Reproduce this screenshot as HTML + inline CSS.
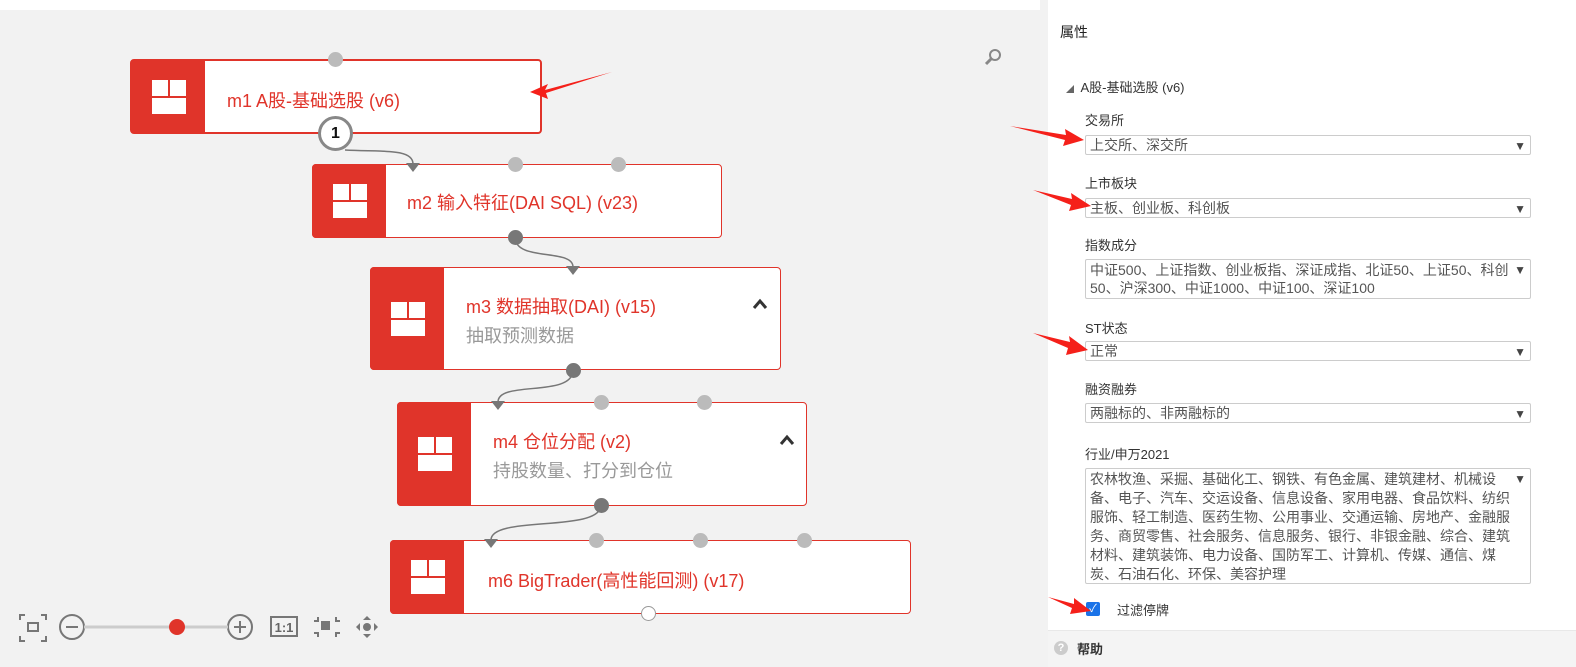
<!DOCTYPE html>
<html><head><meta charset="utf-8"><style>
*{margin:0;padding:0;box-sizing:border-box}
body{width:1576px;height:667px;position:relative;overflow:hidden;background:#fff;font-family:"Liberation Sans","Noto Sans CJK SC",sans-serif}
.abs{position:absolute}
.canvas{left:0;top:10px;width:1048px;height:657px;background:#f2f2f2}
.node{position:absolute;background:#fff;border:1px solid #e0342a;border-radius:4px;overflow:visible}
.node .red{position:absolute;left:-1px;top:-1px;bottom:-1px;width:74px;background:#e0342a;border-radius:4px 0 0 4px}
.ico{position:absolute;left:20px;top:50%;margin-top:-17px;width:34px;height:34px;background:#fff}
.ico:before{content:"";position:absolute;left:0;right:0;top:16px;height:2px;background:#e0342a}
.ico:after{content:"";position:absolute;left:16px;width:2px;top:0;height:16px;background:#e0342a}
.t{position:absolute;color:#e0342a;font-size:18px;white-space:nowrap}
.s{position:absolute;color:#999;font-size:18px;white-space:nowrap}
.chev{position:absolute}
.port{position:absolute;width:15px;height:15px;border-radius:50%;background:#bbb;margin:-7px 0 0 -7px}
.dport{background:#777}
.lbl{position:absolute;left:1085px;font-size:13px;color:#333}
.sel{position:absolute;left:1085px;width:446px;border:1px solid #ccc;border-radius:2px;font-size:14px;color:#555;padding:0 20px 0 4px;line-height:18px;background:#fff}
.sel:after{content:"▼";position:absolute;right:4px;top:1px;font-size:12px;color:#444}
</style></head><body>
<div class="abs canvas"></div>
<div class="abs" style="left:1040px;top:0;width:8px;height:667px;background:#f2f2f2"></div>

<div class="node" style="left:130px;top:59px;width:412px;height:75px;border-width:2px">
<div class="red"></div><div class="ico"></div>
<div class="t" style="left:95px;top:26px">m1 A股-基础选股 (v6)</div>
</div>

<div class="node" style="left:312px;top:164px;width:410px;height:74px">
<div class="red"></div><div class="ico"></div>
<div class="t" style="left:94px;top:24px">m2 输入特征(DAI SQL) (v23)</div>
</div>

<div class="node" style="left:370px;top:267px;width:411px;height:103px">
<div class="red"></div><div class="ico"></div>
<div class="t" style="left:95px;top:25px">m3 数据抽取(DAI) (v15)</div>
<div class="s" style="left:95px;top:54px">抽取预测数据</div>
<svg class="chev" style="left:381px;top:30px" width="16" height="12"><path d="M2,10 L8,3 L14,10" fill="none" stroke="#333" stroke-width="3"/></svg>
</div>

<div class="node" style="left:397px;top:402px;width:410px;height:104px">
<div class="red"></div><div class="ico"></div>
<div class="t" style="left:95px;top:25px">m4 仓位分配 (v2)</div>
<div class="s" style="left:95px;top:54px">持股数量、打分到仓位</div>
<svg class="chev" style="left:381px;top:31px" width="16" height="12"><path d="M2,10 L8,3 L14,10" fill="none" stroke="#333" stroke-width="3"/></svg>
</div>

<div class="node" style="left:390px;top:540px;width:521px;height:74px">
<div class="red"></div><div class="ico"></div>
<div class="t" style="left:97px;top:26px">m6 BigTrader(高性能回测) (v17)</div>
</div>

<svg class="abs" style="left:0;top:0" width="1048" height="667">
<g fill="none" stroke="#777" stroke-width="1.5">
<path d="M345,150 C380,152 413,148 413,164"/>
<path d="M515,237 C515,262 573,248 573,267"/>
<path d="M573,370 C573,398 498,380 498,402"/>
<path d="M601,505 C601,533 491,515 491,540"/>
</g>
<g fill="#777">
<polygon points="406,163 420,163 413,172"/>
<polygon points="566,266 580,266 573,275"/>
<polygon points="491,401 505,401 498,410"/>
<polygon points="484,539 498,539 491,548"/>
</g>
</svg>

<div class="port" style="left:335px;top:59px"></div>
<div class="abs" style="left:318px;top:116px;width:35px;height:35px;border-radius:50%;border:3px solid #888;background:#fff;text-align:center;font-weight:bold;font-size:16px;line-height:29px;color:#111">1</div>
<div class="port" style="left:515px;top:164px"></div><div class="port" style="left:618px;top:164px"></div>
<div class="port dport" style="left:515px;top:237px"></div>
<div class="port dport" style="left:573px;top:370px"></div>
<div class="port" style="left:601px;top:402px"></div><div class="port" style="left:704px;top:402px"></div>
<div class="port dport" style="left:601px;top:505px"></div>
<div class="port" style="left:596px;top:540px"></div><div class="port" style="left:700px;top:540px"></div><div class="port" style="left:804px;top:540px"></div>
<div class="port" style="left:648px;top:613px;background:#fff;border:1px solid #999"></div>

<svg class="abs" style="left:0;top:600px" width="400" height="50">
<g fill="none" stroke="#777" stroke-width="2">
<path d="M20,20 v-5 h5 M41,15 h5 v5 M46,36 v5 h-5 M25,41 h-5 v-5"/>
<rect x="28" y="23" width="10" height="8"/>
<circle cx="72" cy="27" r="12"/><path d="M66,27 h12"/>
<circle cx="240" cy="27" r="12"/><path d="M234,27 h12 M240,21 v12"/>
<rect x="271" y="17" width="26" height="19"/>
<path d="M318,17 v4 h-4 M336,17 v4 h4 M318,37 v-4 h-4 M336,37 v-4 h4"/>
</g>
<line x1="84" y1="27" x2="228" y2="27" stroke="#ccc" stroke-width="3"/>
<circle cx="177" cy="27" r="8" fill="#e0342a"/>
<text x="284" y="32" font-size="13" font-weight="bold" fill="#666" text-anchor="middle" font-family="Liberation Sans">1:1</text>
<rect x="321" y="21" width="9" height="9" fill="#777"/>
<circle cx="367" cy="27" r="4" fill="#777"/>
<g fill="#777"><polygon points="367,16 363,20 371,20"/><polygon points="367,38 363,34 371,34"/><polygon points="356,27 360,23 360,31"/><polygon points="378,27 374,23 374,31"/></g>
</svg>
<svg class="abs" style="left:983px;top:47px" width="20" height="20"><circle cx="12" cy="8" r="5" fill="none" stroke="#888" stroke-width="2"/><path d="M8,12 L3,17" stroke="#888" stroke-width="3"/></svg>

<div class="abs" style="left:1060px;top:22px;font-size:14px;color:#222">属性</div>
<div class="abs" style="left:1066px;top:77px;font-size:13px;color:#333"><span style="font-size:8px;color:#666">◢</span>&nbsp; A股-基础选股 (v6)</div>
<div class="lbl" style="top:110px">交易所</div>
<div class="sel" style="top:135px;height:20px">上交所、深交所</div>
<div class="lbl" style="top:173px">上市板块</div>
<div class="sel" style="top:198px;height:20px">主板、创业板、科创板</div>
<div class="lbl" style="top:235px">指数成分</div>
<div class="sel" style="top:259px;height:40px;padding-top:1px">中证500、上证指数、创业板指、深证成指、北证50、上证50、科创50、沪深300、中证1000、中证100、深证100</div>
<div class="lbl" style="top:318px">ST状态</div>
<div class="sel" style="top:341px;height:20px">正常</div>
<div class="lbl" style="top:379px">融资融券</div>
<div class="sel" style="top:403px;height:20px">两融标的、非两融标的</div>
<div class="lbl" style="top:444px">行业/申万2021</div>
<div class="sel" style="top:468px;height:116px;line-height:19px;padding-top:1px">农林牧渔、采掘、基础化工、钢铁、有色金属、建筑建材、机械设备、电子、汽车、交运设备、信息设备、家用电器、食品饮料、纺织服饰、轻工制造、医药生物、公用事业、交通运输、房地产、金融服务、商贸零售、社会服务、信息服务、银行、非银金融、综合、建筑材料、建筑装饰、电力设备、国防军工、计算机、传媒、通信、煤炭、石油石化、环保、美容护理</div>
<div class="abs" style="left:1086px;top:602px;width:14px;height:14px;background:#1a73e8;border-radius:2px;color:#fff;font-size:11px;line-height:14px;text-align:center">✓</div>
<div class="lbl" style="left:1117px;top:600px">过滤停牌</div>
<div class="abs" style="left:1048px;top:630px;width:528px;height:37px;background:#f4f4f4;border-top:1px solid #e8e8e8"></div>
<div class="abs" style="left:1054px;top:641px;width:14px;height:14px;border-radius:50%;background:#ccc;color:#fff;font-size:11px;font-weight:bold;text-align:center;line-height:14px">?</div>
<div class="abs" style="left:1077px;top:639px;font-size:13px;font-weight:bold;color:#333">帮助</div>

<svg class="abs" style="left:0;top:0" width="1576" height="667">
<g fill="#f5201a">
<polygon points="612,72 545,90 548,84 530,92 548,99 546,93"/>
<polygon points="1010,126 1066,135 1065,129 1084,140 1063,146 1065,140"/>
<polygon points="1033,190 1072,199 1071,193 1091,206 1069,211 1071,205"/>
<polygon points="1033,333 1070,342 1069,336 1088,350 1066,355 1068,348"/>
<polygon points="1048,597 1074,604 1074,598 1091,611 1070,614 1072,608"/>
</g>
</svg>
</body></html>
